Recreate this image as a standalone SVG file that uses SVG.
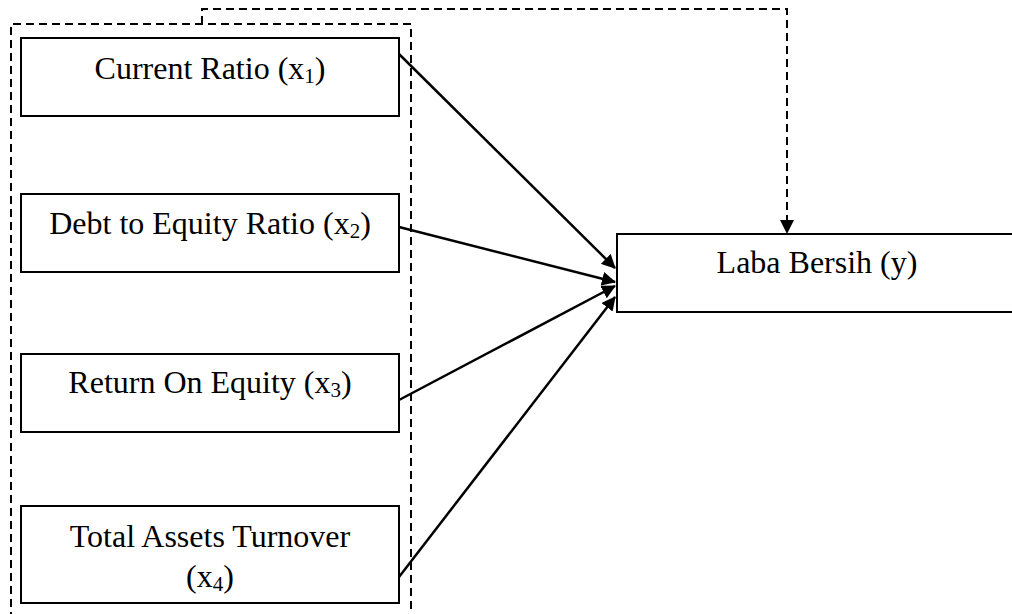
<svg xmlns="http://www.w3.org/2000/svg" width="1012" height="614" viewBox="0 0 1012 614">
<style>
.box{fill:#fff;stroke:#000;stroke-width:2}
.dash{fill:none;stroke:#000;stroke-width:2;stroke-dasharray:8,5}
.t{font-family:"Liberation Serif","Times New Roman",serif;font-size:32px;fill:#000;text-anchor:middle}
.s{font-size:21px}
.ln{stroke:#000;stroke-width:2.5;fill:none}
</style>
<defs>
<marker id="ah" markerWidth="10" markerHeight="10" refX="9" refY="5" orient="auto" markerUnits="userSpaceOnUse" viewBox="0 0 10 10">
<path d="M0,0 L10,5 L0,10 z" fill="#000"/>
</marker>
<marker id="ah2" markerWidth="14" markerHeight="14" refX="13" refY="7" orient="auto" markerUnits="userSpaceOnUse" viewBox="0 0 14 14">
<path d="M0,0 L14,7 L0,14 z" fill="#000"/>
</marker>
</defs>
<g id="group-frame">
<path class="dash" d="M11,620 L11,24 L411,24 L411,620"/>
</g>
<g id="connectors">
<path class="dash" d="M202,24 L202,9 L787,9 L787,221"/>
<path d="M780,220 L794,220 L787,234 z" fill="#000"/>
<line class="ln" x1="399" y1="54" x2="615" y2="268" marker-end="url(#ah2)"/>
<line class="ln" x1="399" y1="227" x2="615" y2="282" marker-end="url(#ah2)"/>
<line class="ln" x1="399" y1="400" x2="615" y2="286" marker-end="url(#ah2)"/>
<line class="ln" x1="399" y1="577" x2="615" y2="297" marker-end="url(#ah2)"/>
</g>
<g id="node-x1">
<rect class="box" x="21" y="38" width="378" height="78"/>
<text class="t" x="210" y="79">Current Ratio (x<tspan class="s" dy="4">1</tspan><tspan dy="-4">)</tspan></text>
</g>
<g id="node-x2">
<rect class="box" x="21" y="194" width="378" height="78"/>
<text class="t" x="210" y="234">Debt to Equity Ratio (x<tspan class="s" dy="4">2</tspan><tspan dy="-4">)</tspan></text>
</g>
<g id="node-x3">
<rect class="box" x="21" y="354" width="378" height="78"/>
<text class="t" x="210" y="393">Return On Equity (x<tspan class="s" dy="4">3</tspan><tspan dy="-4">)</tspan></text>
</g>
<g id="node-x4">
<rect class="box" x="21" y="506" width="378" height="97"/>
<text class="t" x="210" y="547">Total Assets Turnover</text>
<text class="t" x="210" y="587">(x<tspan class="s" dy="4">4</tspan><tspan dy="-4">)</tspan></text>
</g>
<g id="node-y">
<rect class="box" x="617" y="234" width="400" height="78"/>
<text class="t" x="817" y="273">Laba Bersih (y)</text>
</g>
</svg>
